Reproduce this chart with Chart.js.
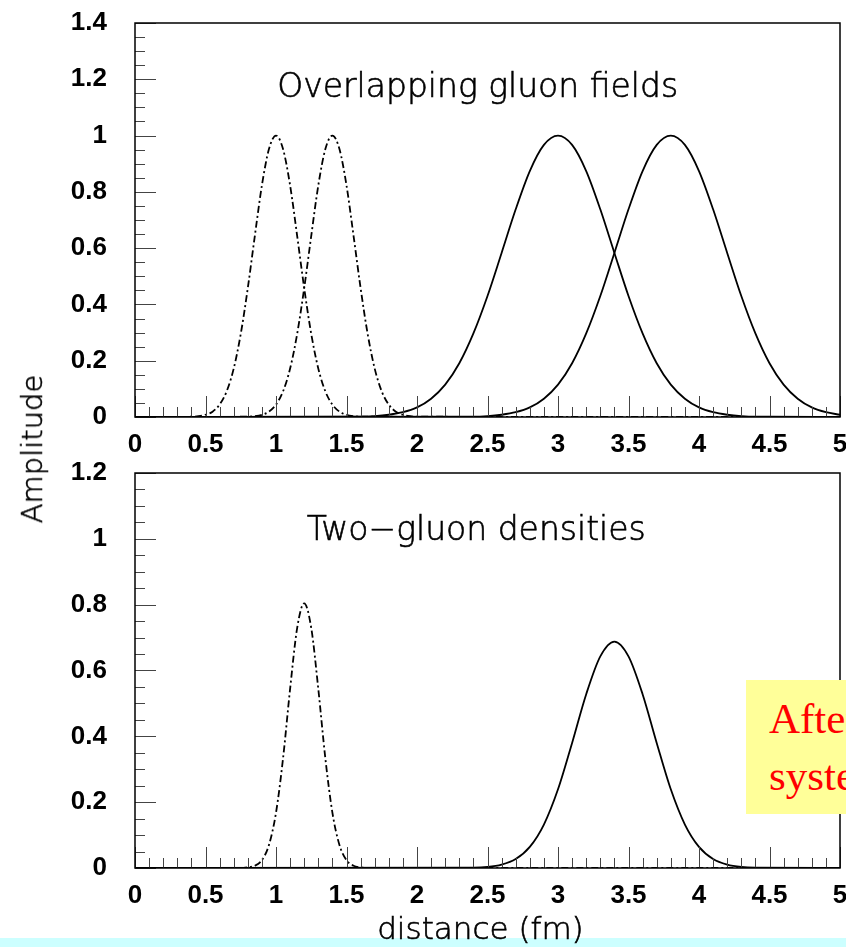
<!DOCTYPE html>
<html>
<head>
<meta charset="utf-8">
<script src="https://cdn.jsdelivr.net/npm/chart.js@4.4.1/dist/chart.umd.min.js"></script>
<style>
  body { margin: 0; width: 846px; height: 947px; overflow: hidden; position: relative; background: #fff; }
  .panel { position: absolute; left: 0; }
  #amp {
    position: absolute; left: 32px; top: 449px;
    transform: translate(-50%, -50%) rotate(-90deg);
    font: 200 29px "DejaVu Sans"; color: #000; white-space: nowrap;
    -webkit-text-stroke: 0.6px #000;
  }
  #note {
    position: absolute; left: 746px; top: 680px; width: 200px; height: 134px;
    background: #ffff99; color: #f00; box-sizing: border-box;
    padding: 10px 0 0 23px; font: 43px/57px "Liberation Serif"; white-space: nowrap;
  }
  #band { position: absolute; left: 0; top: 938px; width: 846px; height: 9px; background: #ccffff; }
</style>
</head>
<body>
<div id="band"></div>
<canvas id="top" class="panel" style="top:0" width="870" height="460"></canvas>
<canvas id="bottom" class="panel" style="top:450px" width="870" height="497"></canvas>
<div id="amp">Amplitude</div>
<div id="note">After<br>system</div>
<script>
// top panel: single-gluon fields (dash-dot pair, solid pair)
const fieldXA = [0, 0.4, 0.45, 0.5, 0.55, 0.6, 0.65, 0.7, 0.75, 0.8, 0.85, 0.9, 0.95, 1.0,
  1.05, 1.1, 1.15, 1.2, 1.25, 1.3, 1.35, 1.4, 1.45, 1.5, 1.55, 1.6, 5];
const fieldA = [0, 0.001, 0.003, 0.008, 0.019, 0.044, 0.091, 0.172, 0.295, 0.458, 0.644, 0.823, 0.952, 1,
  0.952, 0.823, 0.644, 0.458, 0.295, 0.172, 0.091, 0.044, 0.019, 0.008, 0.003, 0.001, 0];
const fieldXB = [0, 0.8, 0.85, 0.9, 0.95, 1.0, 1.05, 1.1, 1.15, 1.2, 1.25, 1.3, 1.35, 1.4,
  1.45, 1.5, 1.55, 1.6, 1.65, 1.7, 1.75, 1.8, 1.85, 1.9, 1.95, 2.0, 5];
const fieldB = [0, 0.001, 0.003, 0.008, 0.019, 0.044, 0.091, 0.172, 0.295, 0.458, 0.644, 0.823, 0.952, 1,
  0.952, 0.823, 0.644, 0.458, 0.295, 0.172, 0.091, 0.044, 0.019, 0.008, 0.003, 0.001, 0];
const fieldXC = [0, 1.5, 1.6, 1.7, 1.8, 1.9, 2.0, 2.1, 2.2, 2.3, 2.4, 2.5, 2.6, 2.7, 2.8, 2.9, 3.0,
  3.1, 3.2, 3.3, 3.4, 3.5, 3.6, 3.7, 3.8, 3.9, 4.0, 4.1, 4.2, 4.3, 4.4, 4.5, 5];
const fieldC = [0, 0.001, 0.001, 0.003, 0.008, 0.017, 0.034, 0.065, 0.115, 0.191, 0.297, 0.430, 0.583, 0.738, 0.874, 0.967, 1,
  0.967, 0.874, 0.738, 0.583, 0.430, 0.297, 0.191, 0.115, 0.065, 0.034, 0.017, 0.008, 0.003, 0.001, 0.001, 0];
const fieldXD = [0, 2.3, 2.4, 2.5, 2.6, 2.7, 2.8, 2.9, 3.0, 3.1, 3.2, 3.3, 3.4, 3.5, 3.6, 3.7, 3.8,
  3.9, 4.0, 4.1, 4.2, 4.3, 4.4, 4.5, 4.6, 4.7, 4.8, 4.9, 5.0];
const fieldD = [0, 0.001, 0.001, 0.003, 0.008, 0.017, 0.034, 0.065, 0.115, 0.191, 0.297, 0.430, 0.583, 0.738, 0.874, 0.967, 1,
  0.967, 0.874, 0.738, 0.583, 0.430, 0.297, 0.191, 0.115, 0.065, 0.034, 0.017, 0.008];

// bottom panel: two-gluon densities
const densXE = [0, 0.75, 0.8, 0.85, 0.9, 0.95, 1.0, 1.05, 1.1, 1.15, 1.2,
  1.25, 1.3, 1.35, 1.4, 1.45, 1.5, 1.55, 1.6, 1.65, 5];
const densE = [0, 0.000, 0.002, 0.007, 0.024, 0.070, 0.168, 0.333, 0.544, 0.729, 0.804,
  0.729, 0.544, 0.333, 0.168, 0.070, 0.024, 0.007, 0.002, 0.000, 0];
const densXF = [0, 2.4, 2.5, 2.6, 2.7, 2.8, 2.9, 3.0, 3.1, 3.2, 3.3, 3.4,
  3.5, 3.6, 3.7, 3.8, 3.9, 4.0, 4.1, 4.2, 4.3, 4.4, 5];
const densF = [0, 0.001, 0.003, 0.010, 0.027, 0.064, 0.132, 0.239, 0.380, 0.528, 0.643, 0.688,
  0.643, 0.528, 0.380, 0.239, 0.132, 0.064, 0.027, 0.010, 0.003, 0.001, 0];

// tick labels
const xLabels = ["0", "0.5", "1", "1.5", "2", "2.5", "3", "3.5", "4", "4.5", "5"];
const topYLabels = ["0", "0.2", "0.4", "0.6", "0.8", "1", "1.2", "1.4"];
const bottomYLabels = ["0", "0.2", "0.4", "0.6", "0.8", "1", "1.2"];

const xRange = [0, 5];
const xStep = 0.5;
const topMax = 1.4;
const bottomMax = 1.2;
const yStep = 0.2;

const pts = (xs, ys) => xs.map((x, i) => ({ x, y: ys[i] }));

const dashDot = [7, 3, 2, 3];
const line = (data, dash) => ({
  data, borderColor: "#000", borderWidth: 1.8, borderDash: dash || [],
  pointRadius: 0, fill: false, cubicInterpolationMode: "monotone",
});

// ROOT style frame with inward ticks
const frame = {
  id: "frame",
  afterDatasetsDraw(chart) {
    const { ctx, chartArea: a, scales: { x, y } } = chart;
    ctx.save();
    ctx.strokeStyle = "#444";
    ctx.lineWidth = 1;
    ctx.beginPath();
    for (let i = 0; i <= 50; i++) {
      const px = Math.round(x.getPixelForValue(i * 0.1)) + 0.5;
      const len = i % 5 === 0 ? 21 : 10;
      ctx.moveTo(px, a.bottom);
      ctx.lineTo(px, a.bottom - len);
    }
    const nY = Math.round(y.max / 0.05);
    for (let i = 0; i <= nY; i++) {
      const py = Math.round(y.getPixelForValue(i * 0.05)) + 0.5;
      const len = i % 4 === 0 ? 21 : 10;
      ctx.moveTo(a.left, py);
      ctx.lineTo(a.left + len, py);
    }
    ctx.stroke();
    ctx.strokeStyle = "#000";
    ctx.lineWidth = 1.5;
    ctx.strokeRect(a.left, a.top, a.right - a.left, a.bottom - a.top);
    ctx.restore();
  },
};

// texts placed in data coordinates
const caption = {
  id: "caption",
  afterDraw(chart, args, opts) {
    const { ctx, scales: { x, y } } = chart;
    ctx.save();
    ctx.fillStyle = "#000";
    ctx.strokeStyle = "#000";
    ctx.lineWidth = 0.6;
    ctx.textAlign = "center";
    ctx.textBaseline = "alphabetic";
    for (const t of opts.items) {
      ctx.font = t.font;
      const px = x.getPixelForValue(t.x), py = y.getPixelForValue(t.y);
      ctx.fillText(t.text, px, py);
      ctx.strokeText(t.text, px, py);
    }
    ctx.restore();
  },
};

const tickFont = { family: "Liberation Sans", weight: "bold", size: 26 };
const capFont = '200 33px "DejaVu Sans"';

function makePanel(id, datasets, yMax, yLabels, xHeight, items) {
  return new Chart(document.getElementById(id), {
    type: "line",
    data: { datasets },
    options: {
      responsive: false,
      animation: false,
      events: [],
      layout: { padding: { top: 23, right: 30, left: 0, bottom: 0 } },
      plugins: { legend: { display: false }, tooltip: { enabled: false }, caption: { items } },
      scales: {
        x: {
          type: "linear", min: xRange[0], max: xRange[1],
          grid: { display: false, drawTicks: true, tickLength: 12 },
          border: { display: false },
          ticks: {
            stepSize: xStep, padding: 0, color: "#000", font: tickFont, maxRotation: 0, autoSkip: false,
            callback: (v, i) => xLabels[i],
          },
          afterFit(s) { s.height = xHeight; },
        },
        y: {
          min: 0, max: yMax,
          grid: { display: false, drawTicks: true, tickLength: 28 },
          border: { display: false },
          ticks: {
            stepSize: yStep, padding: 0, color: "#000", font: tickFont,
            callback: (v, i) => yLabels[i],
          },
          afterFit(s) { s.width = 135; },
        },
      },
    },
    plugins: [frame, caption],
  });
}

makePanel("top", [
  line(pts(fieldXA, fieldA), dashDot),
  line(pts(fieldXB, fieldB), dashDot),
  line(pts(fieldXC, fieldC)),
  line(pts(fieldXD, fieldD)),
], topMax, topYLabels, 43, [
  { text: "Overlapping gluon fields", x: 2.43, y: 1.137, font: capFont },
]);

makePanel("bottom", [
  line(pts(densXE, densE), dashDot),
  line(pts(densXF, densF)),
], bottomMax, bottomYLabels, 79, [
  { text: "Two\u2212gluon densities", x: 2.42, y: 0.997, font: capFont },
  { text: "distance (fm)", x: 2.45, y: -0.217, font: '200 31px "DejaVu Sans"' },
]);
</script>
</body>
</html>
